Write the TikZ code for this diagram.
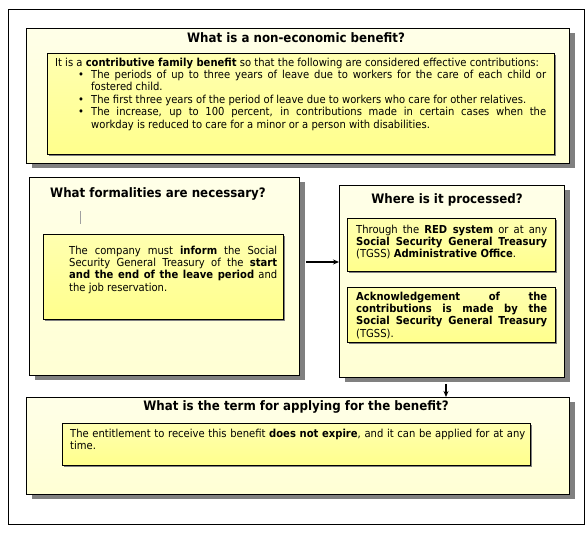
\documentclass[tikz,border=0pt]{standalone}
\usepackage{fontspec}
\setmainfont{DejaVu Sans}[FakeStretch=0.91]
\usetikzlibrary{shadows,arrows.meta}
\definecolor{outerTop}{HTML}{FFFFE8}
\definecolor{outerBot}{HTML}{FFFFD4}
\definecolor{innerTop}{HTML}{FFFFB0}
\definecolor{innerBot}{HTML}{FFFF8C}
\definecolor{shadowgray}{HTML}{808080}
\definecolor{cursorgray}{HTML}{A0A0A0}
\hyphenpenalty=10000
\exhyphenpenalty=10000
\tolerance=9999
\newcommand\bulletitem[1]{\par\hangindent=36pt\hangafter=0\noindent\llap{\makebox[13pt][l]{•}}#1\par}
\begin{document}
\begin{tikzpicture}[x=1pt,y=-1pt,
  frame/.style={draw=black, line width=1pt, inner sep=0pt, anchor=north west},
  outerbox/.style={draw=black, line width=1pt, inner sep=0pt, anchor=north west,
    top color=outerTop, bottom color=outerBot,
    drop shadow={shadow xshift=5pt, shadow yshift=-5pt, fill=shadowgray, opacity=1}},
  innerbox/.style={draw=black, line width=0.9pt, inner sep=0pt, anchor=north west,
    top color=innerTop, bottom color=innerBot,
    drop shadow={shadow xshift=1.5pt, shadow yshift=-1.5pt, fill=shadowgray, opacity=1}},
  bodytext/.style={anchor=north west, inner sep=0pt, align=justify,
    font=\fontsize{11}{12.4}\selectfont},
  titletext/.style={anchor=base, inner sep=0pt, font=\bfseries\fontsize{13}{15}\selectfont},
  link/.style={-{Stealth[length=6pt,width=5pt]}, line width=1.3pt}
]
\useasboundingbox (0,0) rectangle (587,537);
\node[frame, minimum width=576pt, minimum height=515pt] (fr) at (8,9) {};

% box 1
\node[outerbox, minimum width=543pt, minimum height=135pt] (b1) at (26,28) {};
\node[titletext] (t1) at (296,43) {What is a non-economic benefit?};
\node[innerbox, minimum width=507pt, minimum height=101pt] (i1) at (47,53) {};
\node[bodytext, text width=491pt] (x1) at (55,57.3) {\strut It is a \textbf{contributive family benefit} so that the following are considered effective contributions:
\bulletitem{The periods of up to three years of leave due to workers for the care of each child or\linebreak fostered child.}
\bulletitem{The first three years of the period of leave due to workers who care for other relatives.}
\bulletitem{The increase, up to 100 percent, in contributions made in certain cases when the\linebreak workday is reduced to care for a minor or a person with disabilities.}};

% box 2
\node[outerbox, minimum width=270pt, minimum height=198pt] (b2) at (29,177) {};
\node[titletext] (t2) at (158,198) {What formalities are necessary?};
\draw[cursorgray, line width=0.8pt] (80,211) -- (80,224);
\node[innerbox, minimum width=240pt, minimum height=85pt] (i2) at (43,234) {};
\node[bodytext, text width=208pt] (x2) at (69,245.3) {\strut The company must \textbf{inform} the Social Security General Treasury of the \textbf{start and the end of the leave period} and the job reservation.};

% box 3
\node[outerbox, minimum width=225pt, minimum height=192pt] (b3) at (339,185) {};
\node[titletext] (t3) at (447,204) {Where is it processed?};
\node[innerbox, minimum width=208pt, minimum height=53pt] (i3a) at (347,218) {};
\node[bodytext, text width=191pt] (x3a) at (356,224.3) {\strut Through the \textbf{RED system} or at any \textbf{Social Security General Treasury} (TGSS) \textbf{Administrative Office}.};
\node[innerbox, minimum width=208pt, minimum height=55pt] (i3b) at (347,287) {};
\node[bodytext, text width=191pt] (x3b) at (356,291.3) {\strut \textbf{Acknowledgement of the contributions is made by the Social Security General Treasury} (TGSS).};

% box 4
\node[outerbox, minimum width=543pt, minimum height=97pt] (b4) at (26,397) {};
\node[titletext] (t4) at (296,411) {What is the term for applying for the benefit?};
\node[innerbox, minimum width=468pt, minimum height=42pt] (i4) at (62,423) {};
\node[bodytext, text width=460pt, align=left] (x4) at (70,428.3) {\strut The entitlement to receive this benefit \textbf{does not expire}, and it can be applied for at any\\ time.};

% connectors
\coordinate (ay) at (0,262);
\coordinate (ax) at (446,0);
\draw[link] ([xshift=6pt]b2.east |- ay) -- (b3.west |- ay);
\draw[link] ([yshift=-6pt]b3.south -| ax) -- (b4.north -| ax);
\end{tikzpicture}
\end{document}
